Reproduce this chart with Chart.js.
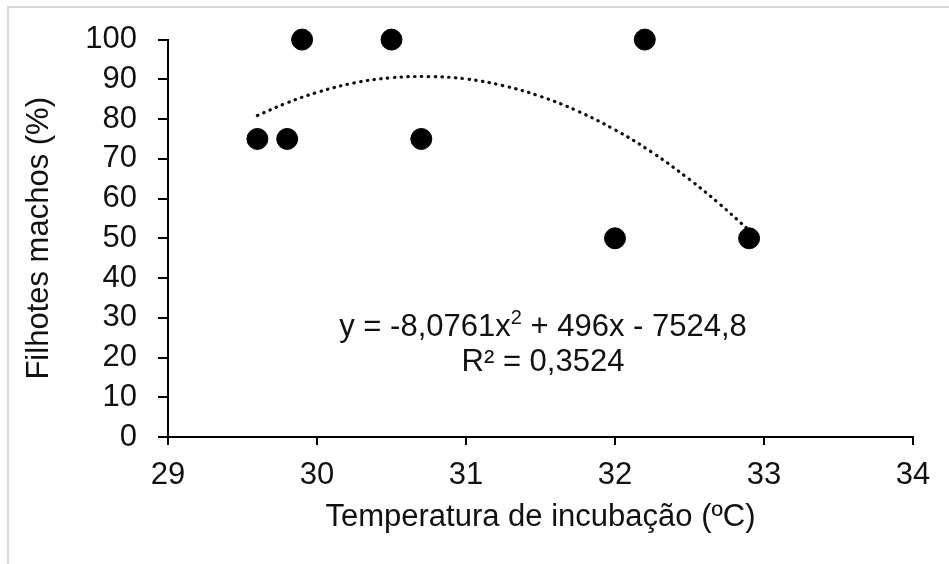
<!DOCTYPE html>
<html lang="pt">
<head>
    <meta charset="UTF-8">
    <title>Filhotes machos x Temperatura de incubação</title>
    <script src="https://cdn.jsdelivr.net/npm/chart.js"></script>
    <style>
        body {
            margin: 0;
            background: #fff;
            overflow: hidden;
        }
        #frame {
            position: absolute;
            left: 7px;
            top: 6px;
            width: 1000px;
            height: 600px;
            border: 2px solid #d9d9d9;
        }
        #chartBox {
            position: absolute;
            left: 0;
            top: 0;
            width: 949px;
            height: 564px;
        }
    </style>
</head>
<body>
    <div id="frame"></div>
    <div id="chartBox">
        <canvas id="scatterChart"></canvas>
    </div>

    <script>
        // observed points
        const tempX = [29.6, 29.8, 29.9, 30.5, 30.7, 32.0, 32.2, 32.9];
        const machosY = [75, 75, 100, 100, 75, 50, 100, 50];

        // dotted trend curve
        const trendX = [29.6, 29.8, 30.0, 30.25, 30.5, 30.75, 31.0, 31.25, 31.5, 31.75, 32.0, 32.25, 32.5, 32.7, 32.9];
        const trendY = [80.9, 84.1, 86.7, 89.1, 90.4, 90.7, 90.1, 88.4, 85.7, 82.0, 77.3, 71.6, 64.8, 58.7, 52.0];

        const equationLines = ['y = -8,0761x', '2', ' + 496x - 7524,8'];
        const r2Line = 'R² = 0,3524';

        const FONT = "'Liberation Sans', Arial, sans-serif";
        const INK = '#111';

        // trendline label, both lines centred on the same x
        const equationLabel = {
            id: 'equationLabel',
            afterDatasetsDraw(chart) {
                const ctx = chart.ctx;
                ctx.save();
                ctx.fillStyle = INK;
                ctx.textBaseline = 'alphabetic';
                const big = '31px ' + FONT;
                const small = '20px ' + FONT;
                ctx.font = big;
                const w1 = ctx.measureText(equationLines[0]).width;
                const w3 = ctx.measureText(equationLines[2]).width;
                ctx.font = small;
                const w2 = ctx.measureText(equationLines[1]).width;
                const centre = 543;
                let x = centre - (w1 + w2 + w3) / 2;
                const base1 = 336;
                ctx.font = big;
                ctx.fillText(equationLines[0], x, base1);
                x += w1;
                ctx.font = small;
                ctx.fillText(equationLines[1], x, base1 - 12);
                x += w2;
                ctx.font = big;
                ctx.fillText(equationLines[2], x, base1);
                ctx.textAlign = 'center';
                ctx.fillText(r2Line, centre, base1 + 35);
                ctx.restore();
            }
        };

        const ctx = document.getElementById('scatterChart').getContext('2d');
        const chart = new Chart(ctx, {
            type: 'scatter',
            data: {
                datasets: [
                    {
                        label: 'Filhotes machos',
                        data: tempX.map((x, i) => ({ x: x, y: machosY[i] })),
                        backgroundColor: '#000',
                        borderColor: '#000',
                        pointRadius: 10.5,
                        pointHoverRadius: 10.5,
                        clip: false
                    },
                    {
                        label: 'Polinomial',
                        type: 'line',
                        data: trendX.map((x, i) => ({ x: x, y: trendY[i] })),
                        borderColor: '#111',
                        borderWidth: 3.2,
                        borderDash: [0.5, 6.3],
                        borderCapStyle: 'round',
                        pointRadius: 0,
                        tension: 0.4,
                        fill: false,
                        clip: false
                    }
                ]
            },
            options: {
                responsive: true,
                maintainAspectRatio: false,
                animation: false,
                events: [],
                layout: {
                    padding: { left: 0, right: 36, top: 35, bottom: 0 }
                },
                plugins: {
                    legend: { display: false },
                    tooltip: { enabled: false }
                },
                scales: {
                    x: {
                        type: 'linear',
                        min: 29,
                        max: 34,
                        ticks: {
                            stepSize: 1,
                            autoSkip: false,
                            color: INK,
                            padding: 12,
                            font: { family: FONT, size: 31 }
                        },
                        grid: {
                            drawOnChartArea: false,
                            drawTicks: true,
                            tickLength: 8,
                            color: '#000',
                            lineWidth: 2
                        },
                        border: { color: '#000', width: 2 },
                        title: {
                            display: true,
                            text: 'Temperatura de incubação (ºC)',
                            color: INK,
                            font: { family: FONT, size: 31 },
                            padding: { top: 0, bottom: 28 }
                        },
                        afterFit(scale) {
                            scale.height = 127;
                        }
                    },
                    y: {
                        min: 0,
                        max: 100,
                        ticks: {
                            stepSize: 10,
                            autoSkip: false,
                            color: INK,
                            padding: 21,
                            font: { family: FONT, size: 31 }
                        },
                        grid: {
                            drawOnChartArea: false,
                            drawTicks: true,
                            tickLength: 10,
                            color: '#000',
                            lineWidth: 2
                        },
                        border: { color: '#000', width: 2 },
                        title: {
                            display: true,
                            text: 'Filhotes machos (%)',
                            color: INK,
                            font: { family: FONT, size: 31 },
                            padding: { top: 21, bottom: 0 }
                        },
                        afterFit(scale) {
                            scale.width = 168;
                        }
                    }
                }
            },
            plugins: [equationLabel]
        });
    </script>
</body>
</html>
